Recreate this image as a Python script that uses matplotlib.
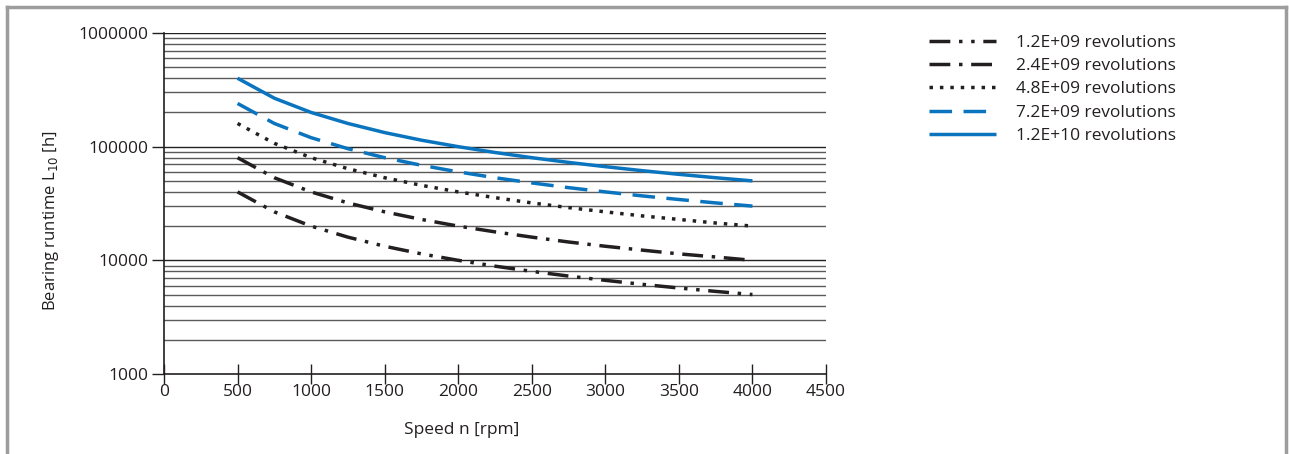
import matplotlib.pyplot as plt
from matplotlib.lines import Line2D
from matplotlib.ticker import FixedLocator, NullFormatter

plt.rcParams['font.family'] = ['Open Sans', 'DejaVu Sans']

speed = [500, 750, 1000, 1250, 1500, 1750, 2000, 2250, 2500, 2750, 3000, 3250, 3500, 3750, 4000]
rev_12e9 = [40000, 26700, 20000, 16000, 13300, 11400, 10000, 8890, 8000, 7270, 6670, 6150, 5710, 5330, 5000]
rev_24e9 = [80000, 53300, 40000, 32000, 26700, 22900, 20000, 17800, 16000, 14500, 13300, 12300, 11400, 10700, 10000]
rev_48e9 = [160000, 107000, 80000, 64000, 53300, 45700, 40000, 35600, 32000, 29100, 26700, 24600, 22900, 21300, 20000]
rev_72e9 = [240000, 160000, 120000, 96000, 80000, 68600, 60000, 53300, 48000, 43600, 40000, 36900, 34300, 32000, 30000]
rev_12e10 = [400000, 267000, 200000, 160000, 133000, 114000, 100000, 88900, 80000, 72700, 66700, 61500, 57100, 53300, 50000]
labels = ['1.2E+09 revolutions', '2.4E+09 revolutions', '4.8E+09 revolutions',
          '7.2E+09 revolutions', '1.2E+10 revolutions']

black = '#231f20'
blue = '#0a74bf'
fs = 12.5

fig = plt.figure(figsize=(12.89, 4.54), dpi=100)
ax = fig.add_axes([164 / 1289, 80 / 454, 662 / 1289, 341 / 454])

series = [rev_12e9, rev_24e9, rev_48e9, rev_72e9, rev_12e10]
colors = [black, black, black, blue, blue]
dashes = [(6, 2.5, 1, 2.5, 1, 2.5), (6, 2.5, 1, 2.5), (1, 2), (6.5, 3.3), None]
for y, c, d, lab in zip(series, colors, dashes, labels):
    line, = ax.plot(speed, y, color=c, lw=2.5, label=lab, solid_capstyle='butt', dash_capstyle='butt')
    if d is not None:
        line.set_dashes(d)

ax.set_yscale('log')
ax.set_ylim(1000, 1000000)
ax.set_xlim(0, 4500)
ax.set_xticks(range(0, 4501, 500))

# horizontal grid at every minor decade value
minor = [m * 10 ** e for e in range(3, 6) for m in range(2, 10)]
for v in minor:
    ax.axhline(v, color='#5a5a5a', lw=1.0, zorder=0)
for v in [10000, 100000, 1000000]:
    ax.axhline(v, color='#222222', lw=1.0, zorder=0)

ax.yaxis.set_major_locator(FixedLocator([1000, 10000, 100000, 1000000]))
ax.set_yticklabels(['1000', '10000', '100000', '1000000'])
ax.yaxis.set_minor_locator(FixedLocator([]))
ax.yaxis.set_minor_formatter(NullFormatter())

for s in ['top', 'right']:
    ax.spines[s].set_visible(False)
for s in ['left', 'bottom']:
    ax.spines[s].set_color(black)
    ax.spines[s].set_linewidth(1.2)

ax.tick_params(axis='y', direction='out', length=9, width=1, colors=black, labelsize=fs, pad=2)
ax.tick_params(axis='x', direction='inout', length=14, width=1, colors=black, labelsize=fs, pad=0)

ax.set_ylabel('Bearing runtime L$_{10}$ [h]', fontsize=12, color=black)
ax.yaxis.set_label_coords(-0.155, 0.45)
ax.set_xlabel('Speed n [rpm]', fontsize=fs, color=black)
ax.xaxis.set_label_coords(0.45, -0.14)

handles, labs = ax.get_legend_handles_labels()
fig.legend(handles, labs, loc='upper left', bbox_to_anchor=(913 / 1289, 1 - 19 / 454),
           frameon=False, fontsize=fs, handlelength=3.9, labelspacing=0.41,
           handletextpad=1.15, labelcolor=black)

# grey frame around the figure
frame = '#9d9d9f'
fig.add_artist(Line2D([7 / 1289, 7 / 1289], [0, 1 - 7 / 454], transform=fig.transFigure, color=frame, lw=2.5))
fig.add_artist(Line2D([1286 / 1289, 1286 / 1289], [0, 1 - 7 / 454], transform=fig.transFigure, color=frame, lw=2.5))
fig.add_artist(Line2D([7 / 1289, 1286 / 1289], [1 - 7 / 454, 1 - 7 / 454], transform=fig.transFigure, color=frame, lw=2.5))

fig.savefig('out.png', dpi=100)
